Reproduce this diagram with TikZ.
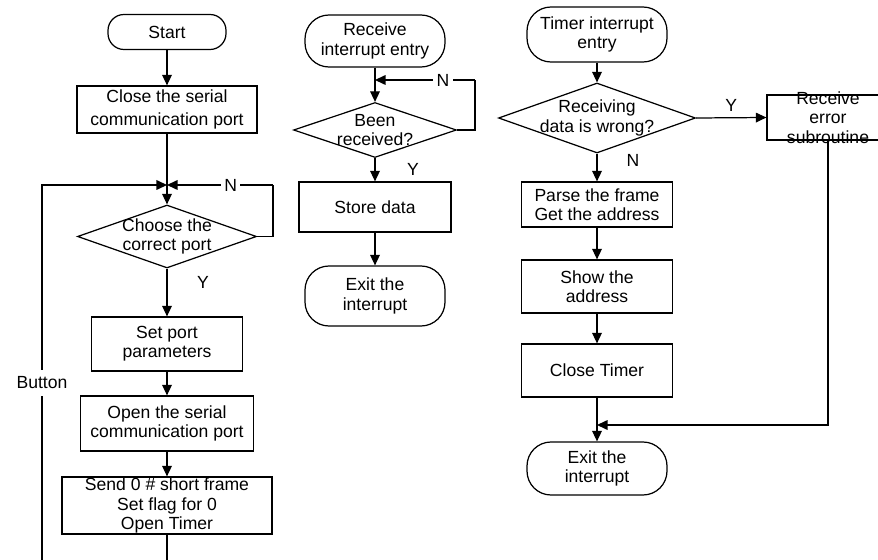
\documentclass[tikz,border=0pt]{standalone}
\usepackage{fontspec}
\setmainfont{Liberation Sans}
\usepackage{tikz}
\usetikzlibrary{arrows.meta}
\usetikzlibrary{shapes.geometric}
\newlength{\pxu}
\setlength{\pxu}{0.02cm}
\tikzstyle{box}=[draw, rectangle, align=center, inner sep=0pt]
\tikzstyle{term}=[draw, rectangle, rounded corners=16\pxu, align=center, inner sep=0pt]
\tikzstyle{bigterm}=[term, rounded corners=24\pxu]
\tikzstyle{decide}=[draw, diamond, inner sep=0pt]
\tikzstyle{arr}=[-{Triangle[width=5.5pt,length=6pt]}]
\tikzstyle{lbl}=[fill=white, inner sep=2pt]

\begin{document}
\begin{tikzpicture}[x=0.02cm, y=-0.02cm, line width=0.7pt, font=\fontsize{10}{11}\selectfont]
%
\useasboundingbox (0,0) rectangle (878,560);
\clip (0,0) rectangle (878,560);
%
% left column
	\node[term, minimum width=118\pxu, minimum height=35\pxu] (start) at (167,32) {Start};
	\node[box, minimum width=180\pxu, minimum height=47\pxu] (close) at (167,109.5) {Close the serial\\[2pt]communication port};
	\coordinate (m1) at (167,185);
	\node[decide, minimum width=179\pxu, minimum height=63\pxu,
		label={[align=center]center:Choose the\\correct port}] (choose) at (167,236.5) {};
	\node[box, minimum width=151\pxu, minimum height=54\pxu] (setport) at (167,344) {Set port\\parameters};
	\node[box, minimum width=173\pxu, minimum height=55\pxu] (open) at (167,423.5) {Open the serial\\communication port};
	\node[box, minimum width=210\pxu, minimum height=57\pxu] (send) at (167,505.5) {Send 0 \# short frame\\Set flag for 0\\Open Timer};
	\coordinate (nl1) at (273,185);
	\coordinate (tl) at (42,185);
	\coordinate (bl) at (42,560);
	\coordinate (sb) at (167,560);
%
	\draw[arr] (start) -- (close);
	\draw (close) -- (m1);
	\draw[arr] (m1) -- (choose);
	\draw (choose.east) -| (nl1);
	\draw[arr] (nl1) -- node[lbl, pos=0.4] {N} (m1);
	\draw[arr] (choose) -- node[pos=0.3, xshift=36\pxu] {Y} (setport);
	\draw[arr] (setport) -- (open);
	\draw[arr] (open) -- (send);
	\draw (send) -- (sb);
	\draw[arr] (bl) -- node[lbl, pos=0.472, inner sep=4pt] {Button} (tl) -- (m1);
%
% middle column
	\node[bigterm, minimum width=140\pxu, minimum height=52\pxu] (recv) at (375,41) {Receive\\interrupt entry};
	\coordinate (m2) at (375,80);
	\node[decide, minimum width=163\pxu, minimum height=55\pxu,
		label={[align=center]center:Been\\received?}] (been) at (375,130) {};
	\node[box, minimum width=152\pxu, minimum height=50\pxu] (store) at (375,207) {Store data};
	\node[bigterm, minimum width=140\pxu, minimum height=60\pxu] (exit1) at (375,296) {Exit the\\interrupt};
	\coordinate (nl2) at (475,80);
%
	\draw (recv) -- (m2);
	\draw[arr] (m2) -- (been);
	\draw (been.east) -| (nl2);
	\draw[arr] (nl2) -- node[lbl, pos=0.32] {N} (m2);
	\draw[arr] (been) -- node[xshift=38\pxu] {Y} (store);
	\draw[arr] (store) -- (exit1);
%
% right column
	\node[bigterm, minimum width=140\pxu, minimum height=55\pxu] (timer) at (597,34.5) {Timer interrupt\\entry};
	\node[decide, minimum width=197\pxu, minimum height=70\pxu,
		label={[align=center]center:Receiving\\data is wrong?}] (wrong) at (597,118) {};
	\node[box, minimum width=122\pxu, minimum height=45\pxu,
		label={[align=center]center:Receive\\error\\subroutine}] (error) at (828,117.5) {};
	\node[box, minimum width=151\pxu, minimum height=45\pxu] (parse) at (597,204.5) {Parse the frame\\Get the address};
	\node[box, minimum width=151\pxu, minimum height=53\pxu] (show) at (597,286.5) {Show the\\address};
	\node[box, minimum width=151\pxu, minimum height=53\pxu] (closet) at (597,370.5) {Close Timer};
	\coordinate (m3) at (597,425);
	\node[bigterm, minimum width=140\pxu, minimum height=53\pxu] (exit2) at (597,468.5) {Exit the\\interrupt};
	\coordinate (er) at (828,425);
%
	\draw[arr] (timer) -- (wrong);
	\draw[arr] (wrong.east) -- node[above] {Y} (error.west);
	\draw[arr] (wrong) -- node[pos=0.25, xshift=36\pxu] {N} (parse);
	\draw[arr] (parse) -- (show);
	\draw[arr] (show) -- (closet);
	\draw (closet) -- (m3);
	\draw[arr] (m3) -- (exit2);
	\draw[arr] (error.south) -- (er) -- (m3);
\end{tikzpicture}
\end{document}
